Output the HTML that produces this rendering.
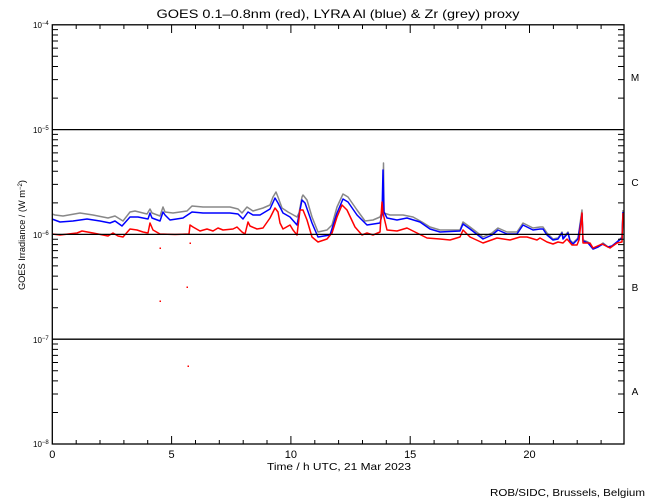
<!DOCTYPE html>
<html><head><meta charset="utf-8"><style>
html,body{margin:0;padding:0;background:#fff;}
svg{display:block;}
text{font-family:"Liberation Sans",sans-serif;fill:#000;}
</style></head><body>
<svg width="650" height="500" viewBox="0 0 650 500" xmlns="http://www.w3.org/2000/svg">
<rect width="650" height="500" fill="#fff"/>
<text x="338" y="18" font-size="12" text-anchor="middle" textLength="363" lengthAdjust="spacingAndGlyphs">GOES 0.1–0.8nm (red), LYRA Al (blue) &amp; Zr (grey) proxy</text>

<!-- series -->
<g fill="none" stroke-width="1.5" stroke-linejoin="round">
<polyline stroke="#888" points="52,214 55,215 63,216 80,213 93,215 108,218 115,216 123,221 130,212 135,211 147,214 150,209 152,213 160,216 163,207 165,212 173,213 187,211 192,206 203,207 217,207 230,207 238,209 242,213 247,207 253,211 263,208 270,205 273,197 276,192 278,197 282,208 288,212 297,217 299,213 302,197 303,195 307,200 312,217 318,232 327,230 332,225 337,207 343,194 348,197 357,210 365,221 373,220 380,217 383,210 383.5,163 384,213 390,215 403,215 413,217 422,222 430,227 440,230 460,230 463,222 470,227 483,237 492,233 498,228 507,232 517,232 523,223 533,228 540,227 543,227 547,233 553,239 558,238 562,232 563,238 568,232 570,240 573,243 578,238 582,210 583,240 588,242 593,249 598,247 603,243 608,247 612,246 617,242 622,237 623,210"/>
<polyline stroke="#0000ff" points="52,219 60,222 73,221 87,219 100,221 110,223 115,221 122,226 130,217 138,217 148,219 150,213 152,218 160,221 163,212 165,215 170,220 183,218 192,212 203,213 217,213 230,213 238,214 243,219 248,212 253,215 260,215 270,209 275,198 278,203 283,213 290,217 297,225 302,200 305,203 312,223 318,237 330,235 337,213 343,199 348,202 357,215 367,225 380,223 382,215 383,170 384,212 387,218 397,220 407,218 420,222 430,229 440,232 460,231 463,224 470,229 483,239 492,235 498,230 507,234 517,234 523,225 533,230 540,229 543,229 547,235 553,240 558,239 562,233 563,239 568,233 570,241 573,244 578,239 582,214 583,241 588,243 593,249 598,247 603,244 608,247 612,246 617,242 622,238 623,212"/>
<polyline stroke="#ff0000" points="52,234 60,235 77,233 82,231 93,233 108,236 113,233 118,236 123,237 130,229 137,230 143,232 148,233 150,223 153,230 160,234 175,234.5 189,234 190,225 193,227 200,231 207,229 213,231 218,228 223,230 233,229 237,227 242,232 245,234 248,222 250,226 257,229 263,228 270,218 275,208 278,212 280,223 283,229 290,225 293,230 297,235 300,210 303,210 307,220 312,237 318,242 327,239 332,233 337,217 342,205 347,210 355,227 362,235 367,233 373,235 380,232 382,202 383,213 387,230 397,231 407,228 417,233 427,238 440,239 450,240 460,237 463,230 470,237 483,243 497,238 510,240 520,237 527,237 537,240 540,238 547,242 553,244 558,242 563,243 567,239 572,245 577,245 579,240 582,213 583,243 590,243 593,248 602,244 610,248 617,243 622,242 623,213"/>
</g>
<g fill="#ff0000">
<rect x="159.5" y="247.5" width="1.5" height="1.5"/>
<rect x="159.5" y="300.5" width="1.5" height="1.5"/>
<rect x="186.5" y="286.5" width="1.5" height="1.5"/>
<rect x="187.5" y="365.5" width="1.5" height="1.5"/>
<rect x="189.5" y="242.5" width="1.5" height="1.5"/>
</g>

<!-- horizontal class lines -->
<g stroke="#000" stroke-width="1.3">
<line x1="52" y1="129.6" x2="624" y2="129.6"/>
<line x1="52" y1="234.4" x2="624" y2="234.4"/>
<line x1="52" y1="339.2" x2="624" y2="339.2"/>
</g>

<!-- axes box -->
<rect x="52.3" y="24.8" width="571.7" height="419.2" fill="none" stroke="#000" stroke-width="1.3"/>

<!-- y minor ticks left & right -->
<g stroke="#000" stroke-width="1">
<path d="M52,412.5h6M52,394h6M52,380.9h6M52,370.7h6M52,362.5h6M52,355.4h6M52,349.4h6M52,344h6
M52,307.7h6M52,289.2h6M52,276.1h6M52,265.9h6M52,257.7h6M52,250.6h6M52,244.6h6M52,239.2h6
M52,202.9h6M52,184.4h6M52,171.3h6M52,161.1h6M52,152.9h6M52,145.8h6M52,139.8h6M52,134.4h6
M52,98.1h6M52,79.6h6M52,66.5h6M52,56.3h6M52,48.1h6M52,41h6M52,35h6M52,29.6h6"/>
<path d="M624,412.5h-6M624,394h-6M624,380.9h-6M624,370.7h-6M624,362.5h-6M624,355.4h-6M624,349.4h-6M624,344h-6
M624,307.7h-6M624,289.2h-6M624,276.1h-6M624,265.9h-6M624,257.7h-6M624,250.6h-6M624,244.6h-6M624,239.2h-6
M624,202.9h-6M624,184.4h-6M624,171.3h-6M624,161.1h-6M624,152.9h-6M624,145.8h-6M624,139.8h-6M624,134.4h-6
M624,98.1h-6M624,79.6h-6M624,66.5h-6M624,56.3h-6M624,48.1h-6M624,41h-6M624,35h-6M624,29.6h-6"/>
<!-- x ticks bottom -->
<path d="M76.2,444v-4M100,444v-4M123.9,444v-4M147.7,444v-4M171.6,444v-8M195.5,444v-4M219.3,444v-4M243.2,444v-4M267,444v-4M290.9,444v-8M314.8,444v-4M338.6,444v-4M362.5,444v-4M386.3,444v-4M410.2,444v-8M434.1,444v-4M457.9,444v-4M481.8,444v-4M505.6,444v-4M529.5,444v-8M553.4,444v-4M577.2,444v-4M601.1,444v-4"/>
<!-- x ticks top -->
<path d="M76.2,25v4M100,25v4M123.9,25v4M147.7,25v4M171.6,25v8M195.5,25v4M219.3,25v4M243.2,25v4M267,25v4M290.9,25v8M314.8,25v4M338.6,25v4M362.5,25v4M386.3,25v4M410.2,25v8M434.1,25v4M457.9,25v4M481.8,25v4M505.6,25v4M529.5,25v8M553.4,25v4M577.2,25v4M601.1,25v4"/>
</g>

<!-- y labels -->
<g font-size="8">
<text x="33" y="28">10<tspan font-size="6" dy="-3">−4</tspan></text>
<text x="33" y="133">10<tspan font-size="6" dy="-3">−5</tspan></text>
<text x="33" y="238">10<tspan font-size="6" dy="-3">−6</tspan></text>
<text x="33" y="343">10<tspan font-size="6" dy="-3">−7</tspan></text>
<text x="33" y="447">10<tspan font-size="6" dy="-3">−8</tspan></text>
</g>

<!-- class letters -->
<g font-size="10" text-anchor="middle">
<text x="635" y="81">M</text>
<text x="635" y="186">C</text>
<text x="635" y="291">B</text>
<text x="635" y="395">A</text>
</g>

<!-- x labels -->
<g font-size="11" text-anchor="middle">
<text x="52.3" y="458">0</text>
<text x="171.6" y="458">5</text>
<text x="290.9" y="458">10</text>
<text x="410.2" y="458">15</text>
<text x="529.5" y="458">20</text>
</g>
<text x="339" y="470" font-size="10.5" text-anchor="middle" textLength="144" lengthAdjust="spacingAndGlyphs">Time / h UTC, 21 Mar 2023</text>
<text x="645" y="496" font-size="10.5" text-anchor="end" textLength="155" lengthAdjust="spacingAndGlyphs">ROB/SIDC, Brussels, Belgium</text>

<!-- y title -->
<text transform="translate(25,235) rotate(-90)" font-size="9" text-anchor="middle" textLength="110" lengthAdjust="spacingAndGlyphs">GOES Irradiance / (W m<tspan font-size="6" dy="-3">−2</tspan><tspan dy="3">)</tspan></text>
</svg>
</body></html>
